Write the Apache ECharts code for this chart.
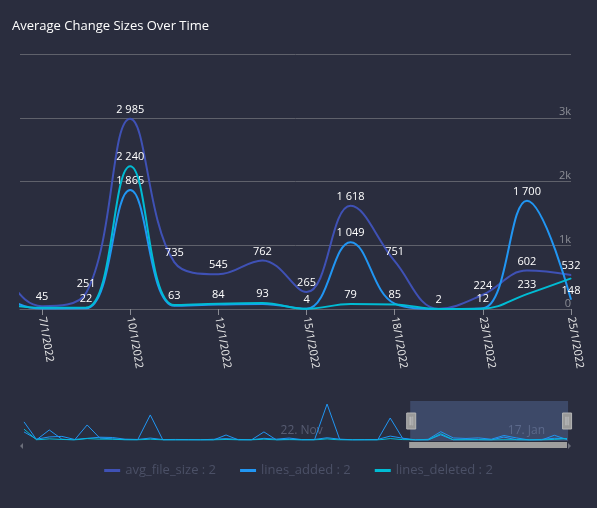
<!DOCTYPE html>
<html>
<head>
<meta charset="utf-8">
<script src="https://cdn.jsdelivr.net/npm/echarts@6/dist/echarts.min.js"></script>
<style>
html,body{margin:0;padding:0;background:#2a2d3e;}
#chart{width:597px;height:508px;}
</style>
</head>
<body>
<div id="chart"></div>
<script>
// ---- data ----
const dates = [
  "6/10/2021","8/10/2021","11/10/2021","13/10/2021","15/10/2021","18/10/2021","20/10/2021","22/10/2021",
  "25/10/2021","27/10/2021","29/10/2021","1/11/2021","3/11/2021","5/11/2021","8/11/2021","10/11/2021",
  "12/11/2021","15/11/2021","17/11/2021","19/11/2021","22/11/2021","24/11/2021","29/11/2021","1/12/2021",
  "6/12/2021","10/12/2021","15/12/2021","20/12/2021","28/12/2021","3/1/2022","5/1/2022","7/1/2022",
  "8/1/2022","10/1/2022","11/1/2022","12/1/2022","13/1/2022","15/1/2022","17/1/2022","18/1/2022",
  "20/1/2022","23/1/2022","24/1/2022","25/1/2022"
];
const avgFileSize = [
  2900,300,1100,1300,200,600,1000,900,300,200,700,150,200,150,100,250,
  500,200,100,600,300,700,150,200,800,300,100,150,200,1400,640,45,
  251,2985,735,545,762,265,1618,751,2,224,602,532
];
const linesAdded = [
  6500,100,3600,300,0,5400,700,400,100,50,9000,0,0,0,0,0,
  1800,0,0,2900,0,300,0,0,12900,200,0,0,0,7900,460,8,
  10,1865,50,70,80,4,1049,85,0,12,1700,148
];
const linesDeleted = [
  3900,50,400,200,0,500,300,300,50,20,300,0,0,0,0,0,
  200,0,0,300,0,100,0,0,400,0,0,0,0,500,130,20,
  22,2240,63,84,93,3,79,70,0,5,233,480
];
// which points carry a data label
const avgLabelIdx = [31,32,33,34,35,36,37,38,39,40,41,42,43];
const addedLabelIdx = [33,37,38,39,41,42,43];
const deletedLabelIdx = [32,33,34,35,36,38,42];
// x tick labels (indices into dates)
const mainTickIdx = [31,33,35,37,39,41,43];
const navTickIdx = [20,38];
const monthNames = ["Jan","Feb","Mar","Apr","May","Jun","Jul","Aug","Sep","Oct","Nov","Dec"];
const viewStart = 30.5, viewEnd = 43;

const seriesNames = ["avg_file_size","lines_added","lines_deleted"];
const colors = ["#3f51b5","#2196f3","#00bcd4"];
const seriesValues = [avgFileSize, linesAdded, linesDeleted];
const labelIdx = [avgLabelIdx, addedLabelIdx, deletedLabelIdx];

function fmt(v){ return String(v).replace(/\B(?=(\d{3})+(?!\d))/g, ' '); }
function navLabel(i){ const p = dates[i].split('/'); return p[0] + '. ' + monthNames[+p[1]-1]; }

const FONT = "'Open Sans', sans-serif";
const chart = echarts.init(document.getElementById('chart'), null, {renderer:'canvas'});

const series = [];
seriesValues.forEach((vals, s) => {
  series.push({
    name: seriesNames[s], type: 'line', xAxisIndex: 0, yAxisIndex: 0,
    smooth: 0.4, showSymbol: true, symbol: 'circle', symbolSize: 1,
    itemStyle: {color: colors[s]},
    lineStyle: {width: 2, color: colors[s]},
    label: {show: false},
    z: 3 + s,
    data: vals.map((v, i) => labelIdx[s].indexOf(i) >= 0
      ? {value: [i, v], label: {show: true, position: 'top', distance: 3, color: '#ffffff', fontSize: 11, fontFamily: FONT,
          formatter: p => fmt(p.value[1])}}
      : {value: [i, v]})
  });
});
seriesValues.forEach((vals, s) => {
  series.push({
    name: 'nav_' + seriesNames[s], type: 'line', xAxisIndex: 1, yAxisIndex: 1,
    showSymbol: false, smooth: false, silent: true,
    lineStyle: {width: 1, color: colors[s === 0 ? 1 : s]},
    itemStyle: {color: colors[s === 0 ? 1 : s]},
    z: 5,
    data: vals.map((v, i) => [i, v])
  });
});

const handlePath = 'path://M0,0L9,0L9,16L0,16Z M3,4L3,12L3.8,12L3.8,4Z M5.2,4L5.2,12L6,12L6,4Z';
const hiddenBg = {lineStyle: {opacity: 0}, areaStyle: {opacity: 0}};

chart.setOption({
  backgroundColor: '#2a2d3e',
  animation: false,
  title: {text: 'Average Change Sizes Over Time', left: 7, top: 15,
    textStyle: {color: '#ffffff', fontSize: 13, fontWeight: 'normal', fontFamily: FONT}},
  legend: {
    data: seriesNames, left: 'center', top: 459, icon: 'rect', itemWidth: 16, itemHeight: 3, itemGap: 24,
    formatter: name => name + ' : 2',
    textStyle: {color: '#4b5066', fontSize: 13, fontFamily: FONT}
  },
  grid: [
    {left: 20, right: 26, top: 54, bottom: 199},
    {left: 24, right: 30, top: 401, height: 39}
  ],
  xAxis: [
    {type: 'value', gridIndex: 0, min: 0, max: 43,
     axisLine: {show: true, lineStyle: {color: '#5f616b', width: 1}},
     axisTick: {show: true, length: 6, customValues: mainTickIdx, lineStyle: {color: '#8a8c94'}},
     axisLabel: {show: true, customValues: mainTickIdx, rotate: -80, margin: 8, color: '#e6e6e6', fontSize: 11, fontFamily: FONT,
       formatter: v => (Number.isInteger(v) && dates[v]) ? dates[v] : ''},
     splitLine: {show: false}},
    {type: 'value', gridIndex: 1, min: 0, max: 43,
     axisLine: {show: false}, axisTick: {show: false}, splitLine: {show: false},
     axisLabel: {show: true, inside: true, customValues: navTickIdx, align: 'left', verticalAlign: 'bottom', margin: 3,
       padding: [0,0,0,4], color: '#575c72', fontSize: 12, fontFamily: FONT,
       formatter: v => (Number.isInteger(v) && dates[v]) ? navLabel(v) : ''}}
  ],
  yAxis: [
    {type: 'value', gridIndex: 0, position: 'right', min: 0, max: 4000, interval: 1000,
     axisLine: {show: false}, axisTick: {show: false},
     splitLine: {show: true, lineStyle: {color: '#5f616b', width: 1}},
     axisLabel: {inside: true, margin: 0, verticalAlign: 'bottom', align: 'right', color: '#8c8e96', fontSize: 11, fontFamily: FONT,
       lineHeight: 11,
       formatter: v => v === 4000 ? '' : (v === 0 ? '0' : (v / 1000) + 'k')}},
    {type: 'value', gridIndex: 1, min: 0, max: 14000, show: false}
  ],
  dataZoom: [{
    type: 'slider', xAxisIndex: 0, filterMode: 'none',
    startValue: viewStart, endValue: viewEnd,
    left: 24, right: 30, top: 401, height: 40,
    backgroundColor: 'rgba(0,0,0,0)', borderColor: 'rgba(0,0,0,0)',
    fillerColor: 'rgba(102,133,194,0.32)',
    showDataShadow: false, showDetail: false, brushSelect: false,
    dataBackground: hiddenBg, selectedDataBackground: hiddenBg,
    handleIcon: handlePath, handleSize: '40%',
    handleStyle: {color: '#9a9a9a', borderColor: '#b5b5b5', borderWidth: 1},
    moveHandleSize: 0, moveHandleIcon: 'none', moveHandleStyle: {opacity: 0},
    emphasis: {handleStyle: {color: '#9a9a9a', borderColor: '#b5b5b5'}, moveHandleStyle: {opacity: 0}},
    z: 4
  }, {
    type: 'slider', xAxisIndex: 0, filterMode: 'none',
    startValue: viewStart, endValue: viewEnd,
    left: 24, right: 30, top: 442, height: 6,
    backgroundColor: 'rgba(0,0,0,0)', borderColor: 'rgba(0,0,0,0)',
    fillerColor: '#9e9e9e',
    showDataShadow: false, showDetail: false, brushSelect: false,
    dataBackground: hiddenBg, selectedDataBackground: hiddenBg,
    handleIcon: 'none', handleSize: 0, handleStyle: {opacity: 0},
    moveHandleSize: 0, moveHandleIcon: 'none', moveHandleStyle: {opacity: 0},
    emphasis: {handleStyle: {opacity: 0}, moveHandleStyle: {opacity: 0}},
    z: 4
  }],
  graphic: [
    {type: 'polygon', shape: {points: [[23,443],[23,449],[20,446]]}, style: {fill: '#6b6e7a'}},
    {type: 'polygon', shape: {points: [[568,443],[568,449],[571,446]]}, style: {fill: '#6b6e7a'}}
  ],
  series: series
});
</script>
</body>
</html>
